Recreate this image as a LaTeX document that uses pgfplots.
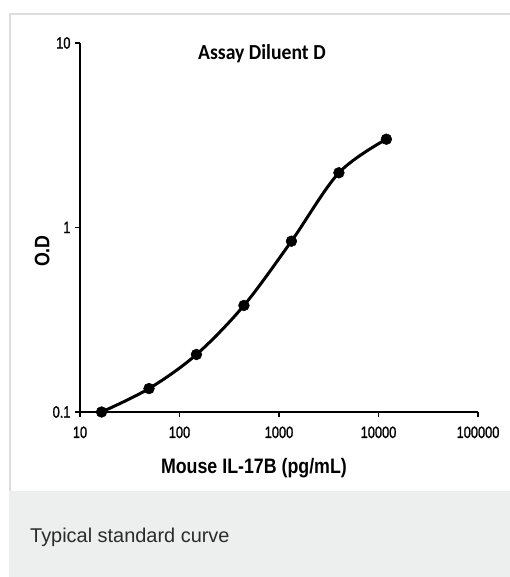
\documentclass[border=0pt]{standalone}
\usepackage{pgfplots}
\pgfplotsset{compat=1.18}
\usepackage{fontspec}
\setmainfont{Liberation Sans}
\newfontfamily\tickfont{Liberation Sans}[FakeStretch=0.78, FakeBold=1.2]
\newfontfamily\labfont{Liberation Sans}[FakeStretch=0.85]
\newfontfamily\titlefont{Carlito}[FakeStretch=0.92]
\definecolor{framegray}{HTML}{DDDDDD}
\definecolor{panelgray}{HTML}{EDEEEE}
\definecolor{captext}{HTML}{2B2B2B}

\begin{document}
\begin{tikzpicture}[x=1bp,y=1bp]
  \useasboundingbox (0,0) rectangle (510,577);
  \fill[white] (0,0) rectangle (510,577);
  % frame and caption panel
  \fill[panelgray] (9,0) rectangle (510,86);
  \draw[framegray, line width=2bp] (10,86) -- (10,563) -- (510,563);
  \node[anchor=base west, font=\fontsize{20}{22}\selectfont, text=captext, inner sep=0pt]
    at (30,34) {Typical standard curve};

  \begin{axis}[
      at={(80bp,165bp)}, anchor=south west,
      scale only axis,
      width=398bp, height=369bp,
      xmode=log, ymode=log,
      xmin=10, xmax=100000,
      ymin=0.1, ymax=10,
      axis x line*=bottom, axis y line*=left,
      axis line style={line width=2.8bp, black},
      xtick={10,100,1000,10000,100000},
      xticklabels={10,100,1000,10000,100000},
      ytick={0.1,1,10},
      yticklabels={0.1,1,10},
      minor tick style={draw=none},
      tick align=outside,
      major tick length=5bp,
      tick style={line width=1.6bp, black},
      tick label style={font=\tickfont\fontsize{16.5}{18}\selectfont},
      xticklabel style={yshift=-6bp},
      yticklabel style={xshift=-1bp},
      clip=false,
      title={\titlefont\bfseries Assay Diluent D},
      title style={at={(rel axis cs:0.457,0.954)}, anchor=center,
                   font=\fontsize{21.5}{23}\selectfont},
      xlabel={\labfont\bfseries Mouse IL-17B (pg/mL)},
      xlabel style={at={(rel axis cs:0.437,-0.152)}, anchor=center,
                    font=\fontsize{21}{23}\selectfont},
      ylabel={\labfont\bfseries O.D},
      ylabel style={at={(rel axis cs:-0.095,0.436)}, anchor=center, rotate=0,
                    font=\fontsize{21}{23}\selectfont},
    ]
    \addplot[black, line width=3bp, smooth, tension=0.55,
             mark=*, mark size=5.4bp, mark options={fill=black, line width=0.5bp}]
      coordinates {
        (16.46, 0.100)
        (49.4, 0.134)
        (148, 0.205)
        (444, 0.378)
        (1333, 0.843)
        (4000, 1.98)
        (12000, 3.01)
      };
  \end{axis}
\end{tikzpicture}
\end{document}
